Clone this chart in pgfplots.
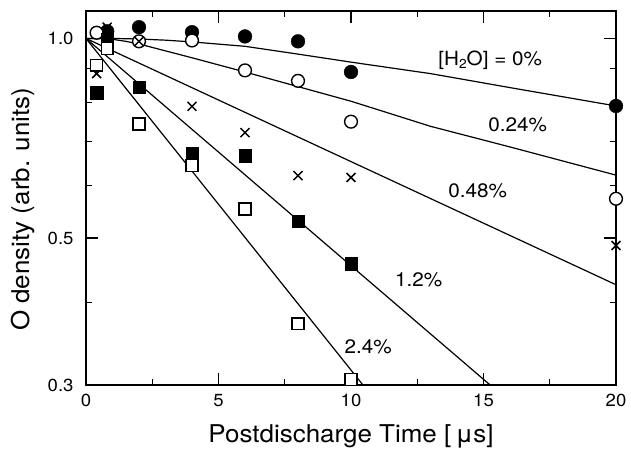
\documentclass[border=0pt]{standalone}
\usepackage{pgfplots}
\pgfplotsset{compat=1.18}
\usepackage{fontspec}
\setmainfont{TeX Gyre Heros}[FakeStretch=1.06]
\begin{document}
\begin{tikzpicture}
\begin{axis}[
  at={(0,0)}, anchor=south west,
  scale only axis, width=530bp, height=374bp,
  xmin=0, xmax=20, ymode=log, ymin=0.3, ymax=1.1,
  xtick={0,5,10,15,20}, xticklabels={0,5,10,15,20},
  minor xtick={2.5,7.5,12.5,17.5},
  ytick={0.3,0.5,1}, yticklabels={0.3,0.5,1.0},
  minor ytick={0.4,0.6,0.7,0.8,0.9},
  tick align=inside,
  major tick length=12bp, minor tick length=6.5bp,
  every tick/.style={line width=1.2bp, black},
  axis line style={line width=2bp},
  ticklabel style={font=\fontsize{17.5bp}{17.5bp}\selectfont},
  xticklabel style={yshift=-6bp},
  yticklabel style={xshift=-9bp},
  clip=false, axis on top,
  xlabel={Postdischarge Time [\,μs]},
  ylabel={O density (arb. units)},
  xlabel style={at={(axis description cs:0.5,0)}, anchor=base, yshift=-57bp, font=\fontsize{24.5bp}{24.5bp}\selectfont},
  ylabel style={at={(axis description cs:-0.1075,0.47)}, anchor=base, font=\fontsize{24.5bp}{24.5bp}\selectfont},
]
% fitted lines
\addplot[black, line width=1.2bp] coordinates {(0,1) (1,1) (2,0.998) (3,0.994) (4,0.988) (6,0.973) (8,0.947) (10,0.921) (13,0.885) (16,0.843) (20,0.791)};
\addplot[black, line width=1.2bp] coordinates {(0,1) (0.5,1) (1,0.997) (1.5,0.99) (2,0.981) (4,0.935) (6,0.890) (10,0.804) (13,0.737) (16,0.686) (20,0.622)};
\addplot[black, line width=1.2bp] coordinates {(0,1) (20,0.425)};
\addplot[black, line width=1.2bp] coordinates {(0,1) (15.25,0.3)};
\addplot[black, line width=1.2bp] coordinates {(0,1) (10.45,0.3)};
% data
\addplot[only marks, mark=*, mark size=6.9bp, mark options={fill=black, draw=black}] coordinates {(0.8,1.025) (2,1.04) (4,1.022) (6,1.007) (8,0.99) (10,0.89) (20,0.791)};
\addplot[only marks, mark=*, mark size=6.4bp, mark options={fill=white, draw=black, line width=1.4bp}] coordinates {(0.4,1.02) (2,0.99) (4,0.993) (6,0.895) (8,0.863) (10,0.749) (20,0.573)};
\addplot[only marks, mark=x, mark size=6.3bp, mark options={draw=black, line width=1.5bp}] coordinates {(0.4,0.885) (0.8,1.04) (2,0.99) (4,0.79) (6,0.721) (8,0.621) (10,0.617) (20,0.487)};
\addplot[only marks, mark=square*, mark size=6.2bp, mark options={fill=black, draw=black}] coordinates {(0.4,0.828) (0.8,0.995) (2,0.845) (4,0.671) (6,0.665) (8,0.530) (10,0.457)};
\addplot[only marks, mark=square*, mark size=5.9bp, mark options={fill=white, draw=black, line width=1.4bp}] coordinates {(0.4,0.911) (0.8,0.965) (2,0.743) (4,0.643) (6,0.553) (8,0.371) (10,0.306)};
% labels
\node[anchor=base west, font=\fontsize{19.5bp}{19.5bp}\selectfont, inner sep=0pt] at (axis cs:13.29,0.911) {[H\raisebox{-0.35ex}{\fontsize{13bp}{13bp}\selectfont 2}O] = 0\%};
\node[anchor=base west, font=\fontsize{19.5bp}{19.5bp}\selectfont, inner sep=0pt] at (axis cs:15.18,0.724) {0.24\%};
\node[anchor=base west, font=\fontsize{19.5bp}{19.5bp}\selectfont, inner sep=0pt] at (axis cs:13.67,0.575) {0.48\%};
\node[anchor=base west, font=\fontsize{19.5bp}{19.5bp}\selectfont, inner sep=0pt] at (axis cs:11.66,0.422) {1.2\%};
\node[anchor=base west, font=\fontsize{19.5bp}{19.5bp}\selectfont, inner sep=0pt] at (axis cs:9.75,0.335) {2.4\%};
\end{axis}
\pgfresetboundingbox
\useasboundingbox (-86bp,-67bp) rectangle (545bp,385bp);
\end{tikzpicture}
\end{document}
